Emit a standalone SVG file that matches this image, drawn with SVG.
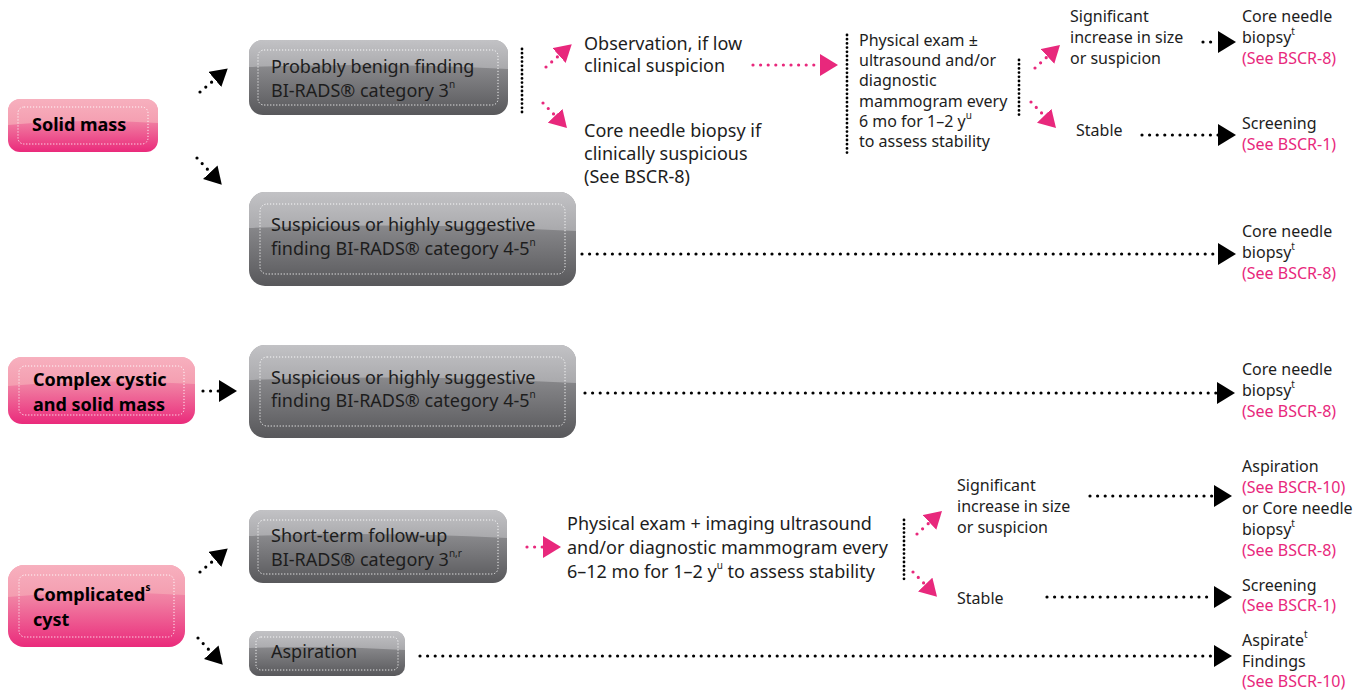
<svg xmlns="http://www.w3.org/2000/svg" width="1360" height="690" viewBox="0 0 1360 690">
<defs>
  <linearGradient id="gBase" x1="0" y1="0" x2="0" y2="1">
    <stop offset="0" stop-color="#a6a6a9"/>
    <stop offset="0.4" stop-color="#858588"/>
    <stop offset="1" stop-color="#58585b"/>
  </linearGradient>
  <linearGradient id="gHi" x1="0" y1="0" x2="0" y2="1">
    <stop offset="0" stop-color="#c2c2c5"/>
    <stop offset="1" stop-color="#a9a9ac"/>
  </linearGradient>
  <linearGradient id="pBase" x1="0" y1="0" x2="0" y2="1">
    <stop offset="0" stop-color="#f5a9b8"/>
    <stop offset="0.45" stop-color="#f07ba0"/>
    <stop offset="1" stop-color="#ea2a7b"/>
  </linearGradient>
  <linearGradient id="pHi" x1="0" y1="0" x2="0" y2="1">
    <stop offset="0" stop-color="#f7b0be"/>
    <stop offset="1" stop-color="#f49db0"/>
  </linearGradient>
  <marker id="ah" viewBox="0 0 18 22" markerWidth="18" markerHeight="22" refX="0" refY="11" orient="auto" markerUnits="userSpaceOnUse">
    <path d="M0,0 L18,11 L0,22 Z" fill="#000"/>
  </marker>
  <marker id="ahs" viewBox="0 0 17 20" markerWidth="17" markerHeight="20" refX="0" refY="10" orient="auto" markerUnits="userSpaceOnUse">
    <path d="M0,0 L17,10 L0,20 Z" fill="#000"/>
  </marker>
  <marker id="ph" viewBox="0 0 18 22" markerWidth="18" markerHeight="22" refX="0" refY="11" orient="auto" markerUnits="userSpaceOnUse">
    <path d="M0,0 L18,11 L0,22 Z" fill="#e8287c"/>
  </marker>
  <marker id="phs" viewBox="0 0 17 20" markerWidth="17" markerHeight="20" refX="0" refY="10" orient="auto" markerUnits="userSpaceOnUse">
    <path d="M0,0 L17,10 L0,20 Z" fill="#e8287c"/>
  </marker>
  <style>
    text { font-family: "Noto Sans", "Open Sans", "Liberation Sans", sans-serif; fill: #1d1d1d; }
    .bx { font-size: 18px; }
    .pk { font-size: 18px; font-weight: bold; fill: #000; }
    .md { font-size: 18px; }
    .sm { font-size: 16px; }
    .ref { fill: #e8287c; }
    .sup { font-size: 10px; }
    .inner { fill: none; stroke: #fff; stroke-width: 1; stroke-dasharray: 1.2 1.8; opacity: 0.9; }
    .dk { fill: none; stroke: #000; stroke-width: 3.2; stroke-linecap: round; stroke-dasharray: 0 7.6; }
    .pd { fill: none; stroke: #e8287c; stroke-width: 3.2; stroke-linecap: round; stroke-dasharray: 0 7.6; }
    .br { fill: none; stroke: #000; stroke-width: 2.8; stroke-linecap: round; stroke-dasharray: 0 4.2; }
  </style>
</defs>

<!-- start nodes -->
<g id="solid-mass">
  <rect x="8" y="99" width="150" height="53" rx="12" fill="url(#pBase)"/>
  <path d="M8,125 V111 A12,12 0 0 1 20,99 H146 A12,12 0 0 1 158,111 V123 Q83,118 8,125 Z" fill="url(#pHi)"/>
  <rect class="inner" x="18" y="107" width="130" height="37" rx="6"/>
  <text class="pk" x="32" y="131">Solid mass</text>
</g>
<g id="complex-cystic">
  <rect x="8" y="357" width="187" height="67" rx="14" fill="url(#pBase)"/>
  <path d="M8,386 V371 A14,14 0 0 1 22,357 H181 A14,14 0 0 1 195,371 V384 Q101,378 8,386 Z" fill="url(#pHi)"/>
  <rect class="inner" x="19" y="366" width="165" height="49" rx="6"/>
  <text class="pk" x="33" y="386">Complex cystic</text>
  <text class="pk" x="33" y="411">and solid mass</text>
</g>
<g id="complicated-cyst">
  <rect x="8" y="565" width="177" height="82" rx="16" fill="url(#pBase)"/>
  <path d="M8,597 V581 A16,16 0 0 1 24,565 H169 A16,16 0 0 1 185,581 V595 Q96,589 8,597 Z" fill="url(#pHi)"/>
  <rect class="inner" x="19" y="575" width="155" height="62" rx="6"/>
  <text class="pk" x="33" y="601">Complicated<tspan class="sup" dy="-10">s</tspan></text>
  <text class="pk" x="33" y="626">cyst</text>
</g>

<!-- category nodes -->
<g id="benign-3">
  <rect x="249" y="40" width="259" height="75" rx="14" fill="url(#gBase)"/>
  <path d="M249,67 V54 A14,14 0 0 1 263,40 H494 A14,14 0 0 1 508,54 V69 Q378,62 249,67 Z" fill="url(#gHi)"/>
  <rect class="inner" x="258" y="50" width="240" height="55" rx="6"/>
  <text class="bx" x="271" y="73">Probably benign finding</text>
  <text class="bx" x="271" y="97">BI-RADS® category 3<tspan class="sup" dy="-9">n</tspan></text>
</g>
<g id="suspicious-solid">
  <rect x="249" y="192" width="327" height="94" rx="16" fill="url(#gBase)"/>
  <path d="M249,228 V208 A16,16 0 0 1 265,192 H560 A16,16 0 0 1 576,208 V231 Q412,222 249,228 Z" fill="url(#gHi)"/>
  <rect class="inner" x="260" y="204" width="305" height="70" rx="7"/>
  <text class="bx" x="271" y="231">Suspicious or highly suggestive</text>
  <text class="bx" x="271" y="255">finding BI-RADS® category 4-5<tspan class="sup" dy="-9">n</tspan></text>
</g>
<g id="suspicious-complex">
  <rect x="249" y="345" width="327" height="93" rx="16" fill="url(#gBase)"/>
  <path d="M249,380 V361 A16,16 0 0 1 265,345 H560 A16,16 0 0 1 576,361 V383 Q412,374 249,380 Z" fill="url(#gHi)"/>
  <rect class="inner" x="260" y="357" width="305" height="69" rx="7"/>
  <text class="bx" x="271" y="384">Suspicious or highly suggestive</text>
  <text class="bx" x="271" y="407">finding BI-RADS® category 4-5<tspan class="sup" dy="-9">n</tspan></text>
</g>
<g id="short-term">
  <rect x="249" y="510" width="258" height="73" rx="14" fill="url(#gBase)"/>
  <path d="M249,536 V524 A14,14 0 0 1 263,510 H493 A14,14 0 0 1 507,524 V538 Q378,531 249,536 Z" fill="url(#gHi)"/>
  <rect class="inner" x="258" y="520" width="240" height="54" rx="6"/>
  <text class="bx" x="271" y="542">Short-term follow-up</text>
  <text class="bx" x="271" y="566">BI-RADS® category 3<tspan class="sup" dy="-9">n,r</tspan></text>
</g>
<g id="aspiration">
  <rect x="249" y="631" width="156" height="45" rx="10" fill="url(#gBase)"/>
  <path d="M249,648 V641 A10,10 0 0 1 259,631 H395 A10,10 0 0 1 405,641 V650 Q327,645 249,648 Z" fill="url(#gHi)"/>
  <rect class="inner" x="256" y="637" width="142" height="33" rx="5"/>
  <text class="bx" x="271" y="658">Aspiration</text>
</g>

<!-- intermediate steps -->
<g id="observation">
  <text class="md" x="584" y="50">Observation, if low</text>
  <text class="md" x="584" y="72">clinical suspicion</text>
</g>
<g id="core-if-suspicious">
  <text class="md" x="584" y="137">Core needle biopsy if</text>
  <text class="md" x="584" y="160">clinically suspicious</text>
  <text class="md" x="584" y="183">(See BSCR-8)</text>
</g>
<g id="exam-6mo">
  <text class="sm" x="859" y="46">Physical exam ±</text>
  <text class="sm" x="859" y="66">ultrasound and/or</text>
  <text class="sm" x="859" y="86">diagnostic</text>
  <text class="sm" x="859" y="107">mammogram every</text>
  <text class="sm" x="859" y="127">6 mo for 1–2 y<tspan class="sup" dy="-8">u</tspan></text>
  <text class="sm" x="859" y="147">to assess stability</text>
</g>
<g id="significant-1">
  <text class="sm" x="1070" y="22">Significant</text>
  <text class="sm" x="1070" y="43">increase in size</text>
  <text class="sm" x="1070" y="64">or suspicion</text>
</g>
<g id="stable-1">
  <text class="sm" x="1076" y="136">Stable</text>
</g>
<g id="exam-6-12mo">
  <text class="md" x="567" y="530">Physical exam + imaging ultrasound</text>
  <text class="md" x="567" y="554">and/or diagnostic mammogram every</text>
  <text class="md" x="567" y="578">6–12 mo for 1–2 y<tspan class="sup" dy="-9">u</tspan><tspan dy="9"> to assess stability</tspan></text>
</g>
<g id="significant-2">
  <text class="sm" x="957" y="491">Significant</text>
  <text class="sm" x="957" y="512">increase in size</text>
  <text class="sm" x="957" y="533">or suspicion</text>
</g>
<g id="stable-2">
  <text class="sm" x="957" y="604">Stable</text>
</g>

<!-- outcomes -->
<g id="out-core-1">
  <text class="sm" x="1242" y="22">Core needle</text>
  <text class="sm" x="1242" y="43">biopsy<tspan class="sup" dy="-8">t</tspan></text>
  <text class="sm ref" x="1242" y="64">(See BSCR-8)</text>
</g>
<g id="out-screening-1">
  <text class="sm" x="1242" y="129">Screening</text>
  <text class="sm ref" x="1242" y="150">(See BSCR-1)</text>
</g>
<g id="out-core-2">
  <text class="sm" x="1242" y="237">Core needle</text>
  <text class="sm" x="1242" y="258">biopsy<tspan class="sup" dy="-8">t</tspan></text>
  <text class="sm ref" x="1242" y="279">(See BSCR-8)</text>
</g>
<g id="out-core-3">
  <text class="sm" x="1242" y="375">Core needle</text>
  <text class="sm" x="1242" y="396">biopsy<tspan class="sup" dy="-8">t</tspan></text>
  <text class="sm ref" x="1242" y="417">(See BSCR-8)</text>
</g>
<g id="out-aspiration">
  <text class="sm" x="1242" y="472">Aspiration</text>
  <text class="sm ref" x="1242" y="493">(See BSCR-10)</text>
  <text class="sm" x="1242" y="514">or Core needle</text>
  <text class="sm" x="1242" y="535">biopsy<tspan class="sup" dy="-8">t</tspan></text>
  <text class="sm ref" x="1242" y="556">(See BSCR-8)</text>
</g>
<g id="out-screening-2">
  <text class="sm" x="1242" y="591">Screening</text>
  <text class="sm ref" x="1242" y="611">(See BSCR-1)</text>
</g>
<g id="out-aspirate">
  <text class="sm" x="1242" y="646">Aspirate<tspan class="sup" dy="-8">t</tspan></text>
  <text class="sm" x="1242" y="667">Findings</text>
  <text class="sm ref" x="1242" y="687">(See BSCR-10)</text>
</g>

<!-- connectors -->
<g id="connectors">
  <!-- brackets -->
  <path class="br" d="M522,49 V112"/>
  <path class="br" d="M847,35 V153"/>
  <path class="br" d="M1019,60 V118"/>
  <path class="br" d="M904,520 V580"/>

  <!-- black arrows -->
  <path class="dk" d="M200,92 L214.8,79.4" marker-end="url(#ahs)"/>
  <path class="dk" d="M197,158 L210.2,172.2" marker-end="url(#ahs)"/>
  <path class="dk" d="M200,572 L214.8,559.4" marker-end="url(#ahs)"/>
  <path class="dk" d="M198,638 L211.2,652.2" marker-end="url(#ahs)"/>
  <path class="dk" d="M203,391 H219" marker-end="url(#ah)"/>
  <path class="dk" d="M582,254 H1218" marker-end="url(#ah)"/>
  <path class="dk" d="M585,393 H1217" marker-end="url(#ah)"/>
  <path class="dk" d="M1203,42 H1218" marker-end="url(#ah)"/>
  <path class="dk" d="M1142,135 H1218" marker-end="url(#ah)"/>
  <path class="dk" d="M1090,496 H1214" marker-end="url(#ah)"/>
  <path class="dk" d="M1047,597 H1214" marker-end="url(#ah)"/>
  <path class="dk" d="M420,656 H1214" marker-end="url(#ah)"/>

  <!-- pink arrows -->
  <path class="pd" d="M546,67 L559,55.5" marker-end="url(#phs)"/>
  <path class="pd" d="M543,103 L555.2,115.7" marker-end="url(#phs)"/>
  <path class="pd" d="M753,65 H820" marker-end="url(#ph)"/>
  <path class="pd" d="M1035,68 L1047.5,56.5" marker-end="url(#phs)"/>
  <path class="pd" d="M1031,102 L1044.2,115.7" marker-end="url(#phs)"/>
  <path class="pd" d="M527,547 H543" marker-end="url(#ph)"/>
  <path class="pd" d="M917,534 L929.5,522.5" marker-end="url(#phs)"/>
  <path class="pd" d="M913,572 L925.2,584.6" marker-end="url(#phs)"/>
</g>
</svg>
